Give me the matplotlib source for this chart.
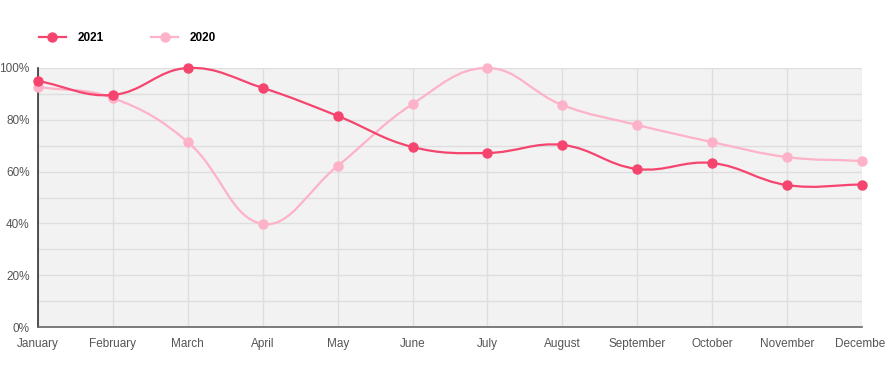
import numpy as np
from matplotlib import pyplot as plt
from matplotlib.path import Path
from matplotlib.patches import PathPatch
from matplotlib.lines import Line2D

plt.rcParams['font.family'] = ['Liberation Sans', 'DejaVu Sans']

months = ['January', 'February', 'March', 'April', 'May', 'June', 'July',
          'August', 'September', 'October', 'November', 'December']
values_2021 = [95.0, 89.6, 100.0, 92.3, 81.5, 69.5, 67.2, 70.3, 61.0, 63.3, 54.8, 55.0]
values_2020 = [92.7, 88.4, 71.4, 39.8, 62.2, 86.1, 100.0, 85.7, 78.0, 71.4, 65.6, 64.1]

color_2021 = '#f5456f'
color_2020 = '#fdb2c8'


def spline_path(ax, xs, ys, tension=0.4):
    """Chart.js-like spline through points, computed in pixel space"""
    pts = ax.transData.transform(np.column_stack([xs, ys]))
    n = len(pts)
    verts = [pts[0]]
    codes = [Path.MOVETO]
    cps = []
    for i in range(n):
        prev = pts[max(i - 1, 0)]
        cur = pts[i]
        nxt = pts[min(i + 1, n - 1)]
        d01 = np.hypot(*(cur - prev))
        d12 = np.hypot(*(nxt - cur))
        tot = d01 + d12
        s01 = d01 / tot if tot else 0
        s12 = d12 / tot if tot else 0
        cps.append((cur - tension * s01 * (nxt - prev), cur + tension * s12 * (nxt - prev)))
    for i in range(n - 1):
        verts += [cps[i][1], cps[i + 1][0], pts[i + 1]]
        codes += [Path.CURVE4] * 3
    verts = ax.transData.inverted().transform(np.array(verts))
    return Path(verts, codes)


fig = plt.figure(figsize=(8.85, 3.7), dpi=100)
ax = fig.add_axes([38 / 885, 43 / 370, 824 / 885, 259 / 370])
x = np.arange(len(months))
ax.set_xlim(0, len(months) - 1)
ax.set_ylim(0, 100)
ax.set_facecolor('#f2f2f2')

ax.set_yticks(np.arange(0, 101, 10))
ax.set_yticklabels([f'{v}%' if v % 20 == 0 else '' for v in range(0, 101, 10)])
ax.set_xticks(x)
ax.set_xticklabels(months)
ax.grid(True, color='#dedede', linewidth=1)
ax.set_axisbelow(True)
ax.tick_params(length=0, labelsize=8.5, colors='#555555')
ax.tick_params(axis='x', pad=8)
ax.tick_params(axis='y', pad=6)
for side in ['top', 'right']:
    ax.spines[side].set_visible(False)
ax.spines['left'].set_color('#333333')
ax.spines['bottom'].set_color('#666666')
ax.spines['left'].set_linewidth(1.2)
ax.spines['bottom'].set_linewidth(1.2)

fig.canvas.draw()
for vals, col, z in [(values_2020, color_2020, 3), (values_2021, color_2021, 4)]:
    path = spline_path(ax, x, vals)
    ax.add_patch(PathPatch(path, facecolor='none', edgecolor=col, linewidth=1.6,
                           zorder=z, clip_on=False))
    ax.plot(x, vals, 'o', color=col, markersize=6.5, zorder=z + 0.5, clip_on=False)

handles = [Line2D([], [], color=color_2021, marker='o', markersize=6.5, linewidth=1.6),
           Line2D([], [], color=color_2020, marker='o', markersize=6.5, linewidth=1.6)]
fig.legend(handles, ['2021', '2020'], loc='center left', bbox_to_anchor=(28 / 885, 1 - 38 / 370),
           ncol=2, frameon=False, handlelength=2.3, columnspacing=4.0, handletextpad=1.0,
           prop={'weight': 'bold', 'size': 8.5})

fig.savefig('out.png', dpi=100)
